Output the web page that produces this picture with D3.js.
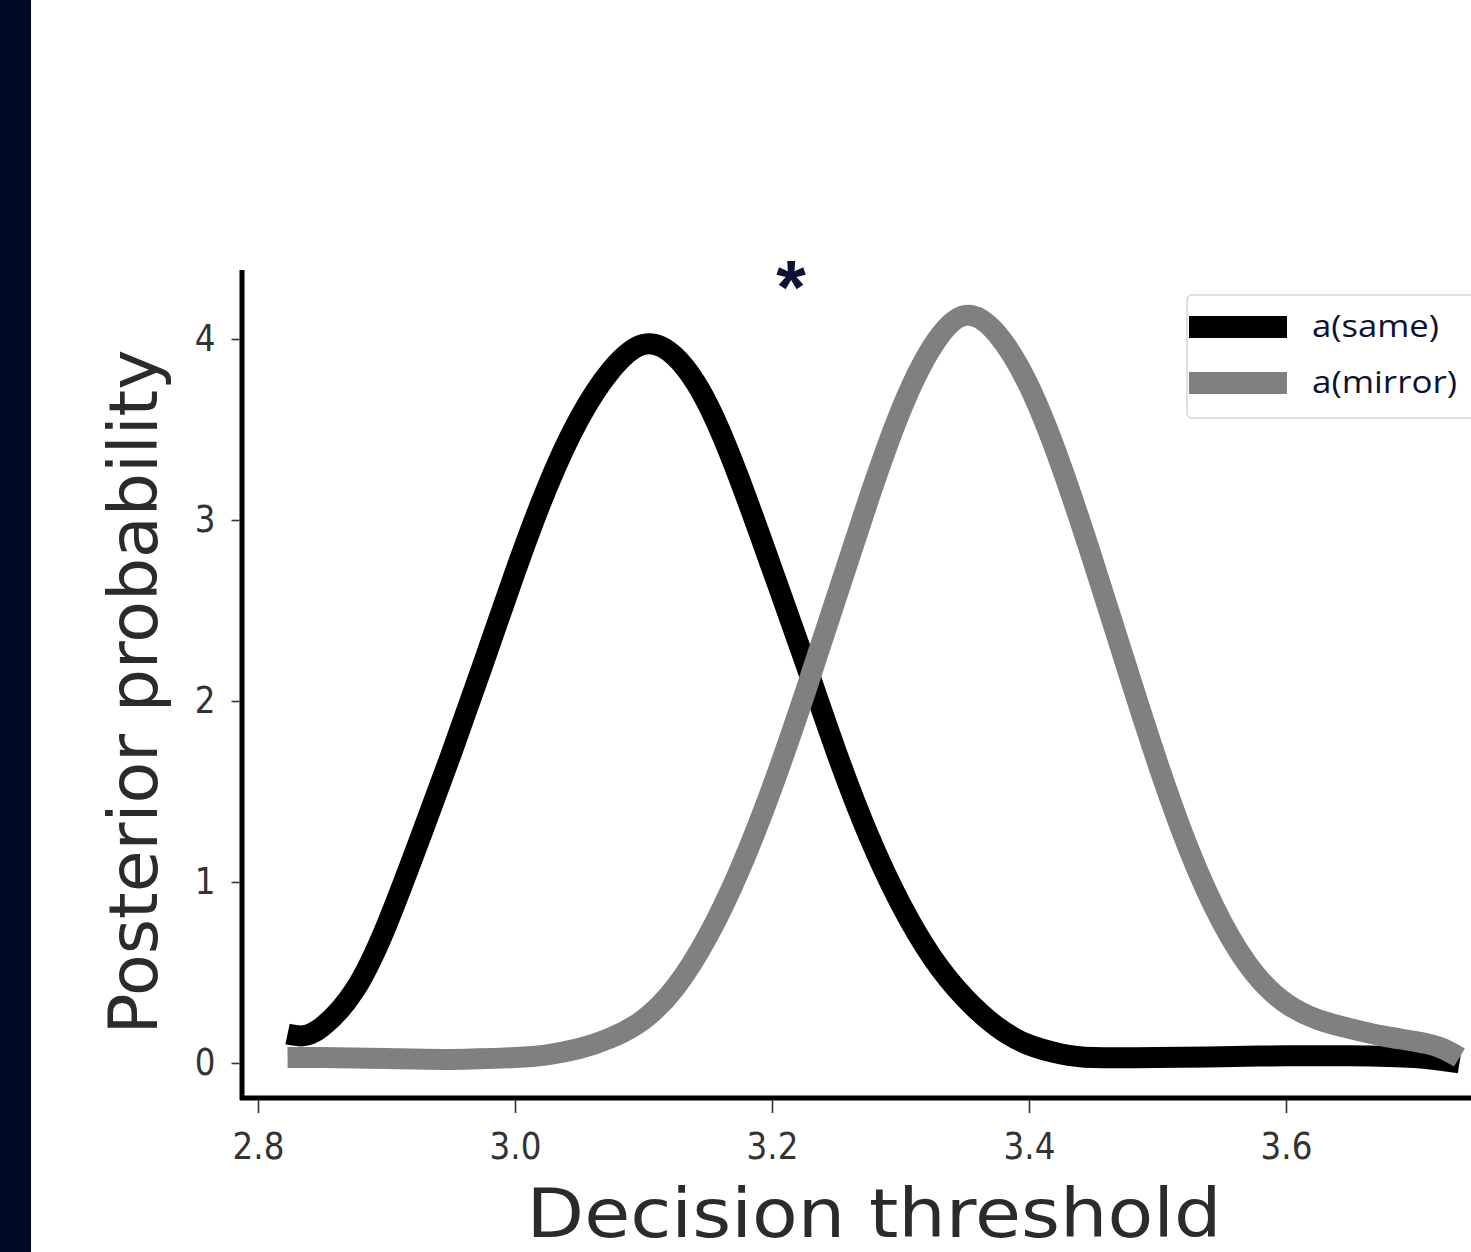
<!DOCTYPE html>
<html>
<head>
<meta charset="utf-8">
<script src="https://cdn.jsdelivr.net/npm/d3@7"></script>
<style>
  html, body { margin: 0; padding: 0; background: #ffffff; }
  svg { display: block; }
</style>
</head>
<body>
<script>
// Posterior densities of the decision threshold for the two conditions
const thresholdSame = [2.823, 2.835, 2.85, 2.875, 2.9, 2.925, 2.95, 2.975, 3.0, 3.025, 3.05, 3.075, 3.1, 3.125, 3.15, 3.175, 3.2, 3.225, 3.25, 3.275, 3.3, 3.325, 3.35, 3.375, 3.4, 3.425, 3.45, 3.5, 3.55, 3.6, 3.65, 3.7, 3.735];
const densitySame   = [0.16, 0.15, 0.20, 0.40, 0.76, 1.22, 1.70, 2.20, 2.71, 3.18, 3.56, 3.83, 3.97, 3.90, 3.64, 3.22, 2.73, 2.23, 1.72, 1.26, 0.88, 0.58, 0.36, 0.20, 0.10, 0.05, 0.03, 0.03, 0.035, 0.04, 0.04, 0.03, 0.0];

const thresholdMirror = [2.823, 2.85, 2.9, 2.95, 3.0, 3.025, 3.05, 3.075, 3.1, 3.125, 3.15, 3.175, 3.2, 3.225, 3.25, 3.275, 3.3, 3.325, 3.35, 3.375, 3.4, 3.425, 3.45, 3.475, 3.5, 3.525, 3.55, 3.575, 3.6, 3.625, 3.65, 3.675, 3.7, 3.72, 3.735];
const densityMirror   = [0.03, 0.03, 0.025, 0.02, 0.03, 0.045, 0.08, 0.14, 0.24, 0.42, 0.70, 1.07, 1.52, 2.03, 2.57, 3.11, 3.60, 3.96, 4.13, 4.03, 3.74, 3.30, 2.77, 2.21, 1.66, 1.17, 0.78, 0.50, 0.33, 0.24, 0.19, 0.15, 0.12, 0.085, 0.03];

const xTickValues = [2.8, 3.0, 3.2, 3.4, 3.6];
const yTickValues = [0, 1, 2, 3, 4];
const seriesNames  = ["a(same)", "a(mirror)"];
const seriesColors = ["#000000", "#808080"];

const W = 1471, H = 1252;
const svg = d3.select("body").append("svg").attr("width", W).attr("height", H);

// slide sidebar
svg.append("rect").attr("x", 0).attr("y", 0).attr("width", 31).attr("height", H).attr("fill", "#000a24");

const x = d3.scaleLinear().domain([2.8, 3.6]).range([258, 1286]);
const y = d3.scaleLinear().domain([0, 4]).range([1063, 339]);

// spines (offset from the data area)
svg.append("line").attr("x1", 242).attr("x2", 242).attr("y1", 270).attr("y2", 1100)
  .attr("stroke", "#000").attr("stroke-width", 5);
svg.append("line").attr("x1", 240).attr("x2", W).attr("y1", 1098).attr("y2", 1098)
  .attr("stroke", "#000").attr("stroke-width", 5);

function squeeze(sel, k) {
  sel.each(function () {
    const len = this.getComputedTextLength();
    d3.select(this).attr("textLength", len * k).attr("lengthAdjust", "spacingAndGlyphs");
  });
}

const xAxis = svg.append("g").attr("transform", "translate(0,1100)")
  .call(d3.axisBottom(x).tickValues(xTickValues).tickFormat(d3.format(".1f")).tickSize(13).tickPadding(20));
const yAxis = svg.append("g").attr("transform", "translate(239.5,0)")
  .call(d3.axisLeft(y).tickValues(yTickValues).tickFormat(d3.format("d")).tickSize(8).tickPadding(16));

[xAxis, yAxis].forEach(g => {
  g.select(".domain").remove();
  g.selectAll(".tick line").attr("stroke", "#333").attr("stroke-width", 1.6);
  g.selectAll(".tick text").attr("fill", "#333").style("font-family", "DejaVu Sans").style("font-size", "37px");
  squeeze(g.selectAll(".tick text"), 0.88);
});

// axis titles
svg.append("text").attr("x", 874).attr("y", 1237).attr("text-anchor", "middle")
  .attr("fill", "#2b2b2b").style("font-family", "DejaVu Sans").style("font-size", "68px")
  .attr("textLength", 695).attr("lengthAdjust", "spacingAndGlyphs")
  .text("Decision threshold");
svg.append("text").attr("transform", "translate(157,692) rotate(-90)").attr("text-anchor", "middle")
  .attr("fill", "#2b2b2b").style("font-family", "DejaVu Sans").style("font-size", "68px")
  .attr("textLength", 685).attr("lengthAdjust", "spacingAndGlyphs")
  .text("Posterior probability");

// density curves (smooth cubic spline through the density estimates)
const line = d3.line().x(d => x(d[0])).y(d => y(d[1])).curve(d3.curveNatural);
const series = [
  d3.zip(thresholdSame, densitySame),
  d3.zip(thresholdMirror, densityMirror)
];
series.forEach((pts, i) => {
  svg.append("path").datum(pts).attr("d", line)
    .attr("fill", "none").attr("stroke", seriesColors[i]).attr("stroke-width", 21)
    .attr("stroke-linejoin", "round").attr("stroke-linecap", "butt");
});

// significance marker
svg.append("text").attr("x", 791).attr("y", 313).attr("text-anchor", "middle")
  .attr("fill", "#0b1233").style("font-family", "Liberation Sans").style("font-weight", "bold")
  .style("font-size", "76px").text("*");

// legend
const lg = svg.append("g");
lg.append("rect").attr("x", 1187).attr("y", 295).attr("width", 310).attr("height", 123).attr("rx", 5)
  .attr("fill", "#fff").attr("stroke", "#d6d6d6").attr("stroke-width", 1.5);
const legendText = [127, 145];
seriesNames.forEach((name, i) => {
  const cy = 327 + i * 56;
  lg.append("line").attr("x1", 1189).attr("x2", 1287).attr("y1", cy).attr("y2", cy)
    .attr("stroke", seriesColors[i]).attr("stroke-width", 22);
  lg.append("text").attr("x", 1312).attr("y", cy + 10).attr("fill", "#0b1233")
    .style("font-family", "Open Sans").style("font-size", "31px")
    .attr("textLength", legendText[i]).attr("lengthAdjust", "spacingAndGlyphs")
    .text(name);
});
</script>
</body>
</html>
